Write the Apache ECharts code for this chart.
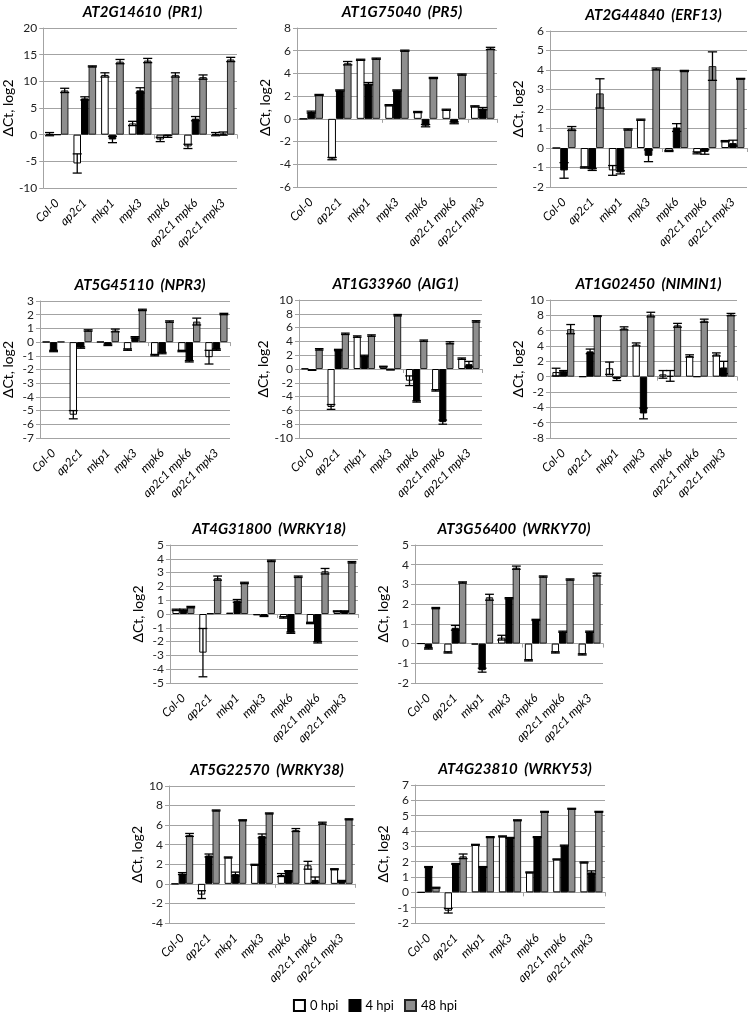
<!DOCTYPE html>
<html><head><meta charset="utf-8">
<script src="https://cdn.jsdelivr.net/npm/echarts@6/dist/echarts.min.js"></script>
<style>html,body{margin:0;padding:0;background:#fff}#c{width:750px;height:1019px}</style>
</head><body><div id="c"></div>
<script>
const categories = ['Col-0','ap2c1','mkp1','mpk3','mpk6','ap2c1 mpk6','ap2c1 mpk3'];
const hpiNames = ['0 hpi','4 hpi','48 hpi'];

// AT2G14610 (PR1)
const PR1_values = [[0.1,-5.4,11.2,2.1,-0.9,-2.2,0.1],[0.0,6.8,-0.9,8.3,-0.3,3.0,0.2],[8.3,12.8,13.7,13.9,11.2,10.8,14.1]];
const PR1_errors = [[0.3,1.8,0.4,0.4,0.4,0.4,0.3],[0,0.3,0.6,0.5,0.2,0.4,0.3],[0.4,0.1,0.4,0.4,0.4,0.4,0.4]];
// AT1G75040 (PR5)
const PR5_values = [[0.0,-3.5,5.2,1.2,0.6,0.8,1.1],[0.6,2.5,3.1,2.5,-0.6,-0.35,0.9],[2.1,4.9,5.3,6.0,3.6,3.9,6.2]];
const PR5_errors = [[0,0.1,0.05,0.05,0.05,0.05,0.05],[0.08,0.05,0.1,0.05,0.1,0.08,0.1],[0.05,0.15,0.05,0.05,0.05,0.05,0.1]];
// AT2G44840 (ERF13)
const ERF13_values = [[0,-1.0,-1.15,1.45,-0.15,-0.25,0.35],[-1.15,-1.1,-1.25,-0.4,1.05,-0.2,0.25],[1.0,2.8,0.95,4.05,3.95,4.2,3.55]];
const ERF13_errors = [[0,0.03,0.25,0.03,0.03,0.05,0.03],[0.4,0.05,0.08,0.3,0.2,0.12,0.15],[0.1,0.75,0.03,0.05,0.03,0.73,0.02]];
// AT5G45110 (NPR3)
const NPR3_values = [[0.02,-5.3,0.02,-0.55,-0.95,-0.65,-1.1],[-0.65,-0.4,-0.2,0.35,-0.8,-1.4,-0.55],[0.03,0.85,0.85,2.35,1.5,1.5,2.05]];
const NPR3_errors = [[0,0.3,0,0.05,0.05,0.05,0.5],[0.05,0.05,0.05,0.05,0.05,0.05,0.05],[0,0.05,0.1,0.05,0.05,0.25,0.05]];
// AT1G33960 (AIG1)
const AIG1_values = [[0.05,-5.5,4.7,0.35,-1.7,-3.1,1.5],[-0.15,2.75,1.9,-0.1,-4.7,-7.7,0.7],[2.85,5.1,4.85,7.8,4.1,3.8,6.9]];
const AIG1_errors = [[0,0.35,0.1,0.05,0.7,0.1,0.1],[0.05,0.1,0.1,0.05,0.1,0.3,0.4],[0.1,0.1,0.1,0.1,0.1,0.15,0.1]];
// AT1G02450 (NIMIN1)
const NIMIN1_values = [[0.6,0,1.1,4.2,0.3,2.7,2.9],[0.7,3.3,-0.3,-4.8,0.1,0,1.2],[6.2,7.9,6.3,8.1,6.7,7.3,8.1]];
const NIMIN1_errors = [[0.5,0,0.8,0.2,0.5,0.15,0.2],[0.1,0.3,0.2,0.7,0.7,0,0.8],[0.6,0.05,0.2,0.3,0.25,0.2,0.15]];
// AT4G31800 (WRKY18)
const WRKY18_values = [[0.3,-2.8,0.1,-0.1,-0.25,-0.65,0.2],[0.3,0.05,0.95,-0.15,-1.35,-2.05,0.2],[0.5,2.6,2.25,3.85,2.7,3.1,3.75]];
const WRKY18_errors = [[0.05,1.75,0,0,0.05,0.05,0.03],[0.05,0,0.1,0.03,0.05,0.05,0.03],[0.05,0.15,0.05,0.05,0.05,0.2,0.05]];
// AT3G56400 (WRKY70)
const WRKY70_values = [[0,-0.45,-0.05,0.3,-0.85,-0.45,-0.55],[-0.25,0.8,-1.35,2.3,1.2,0.6,0.6],[1.8,3.1,2.35,3.85,3.4,3.25,3.5]];
const WRKY70_errors = [[0,0.03,0,0.12,0.03,0.03,0.03],[0.03,0.12,0.1,0.03,0.03,0.03,0.03],[0.03,0.03,0.15,0.08,0.03,0.03,0.07]];
// AT5G22570 (WRKY38)
const WRKY38_values = [[0,-1.1,2.7,1.95,0.9,1.9,1.5],[1.05,2.9,1.0,4.9,1.3,0.4,0.3],[5.0,7.5,6.5,7.2,5.5,6.2,6.6]];
const WRKY38_errors = [[0,0.4,0.05,0.05,0.15,0.4,0.05],[0.1,0.15,0.2,0.2,0.05,0.3,0.05],[0.15,0.05,0.05,0.05,0.15,0.1,0.05]];
// AT4G23810 (WRKY53)
const WRKY53_values = [[0,-1.2,3.1,3.65,1.3,2.15,1.95],[1.65,1.85,1.65,3.55,3.6,3.05,1.3],[0.3,2.35,3.6,4.7,5.25,5.45,5.25]];
const WRKY53_errors = [[0,0.15,0.03,0.03,0.03,0.03,0.03],[0.03,0.03,0.03,0.03,0.03,0.03,0.1],[0.03,0.15,0.03,0.03,0.03,0.03,0.03]];

const panels = [
  {title:'AT2G14610  (PR1)', v:PR1_values, e:PR1_errors, g:[38,28,199,160], y:[-10,20,5]},
  {title:'AT1G75040  (PR5)', v:PR5_values, e:PR5_errors, g:[297,28,200,159], y:[-6,8,2]},
  {title:'AT2G44840  (ERF13)', v:ERF13_values, e:ERF13_errors, g:[550,31,197,156], y:[-2,6,1]},
  {title:'AT5G45110  (NPR3)', v:NPR3_values, e:NPR3_errors, g:[40,301,190,137], y:[-7,3,1]},
  {title:'AT1G33960  (AIG1)', v:AIG1_values, e:AIG1_errors, g:[299,300,183,138], y:[-10,10,2]},
  {title:'AT1G02450  (NIMIN1)', v:NIMIN1_values, e:NIMIN1_errors, g:[550,300,187,138], y:[-8,10,2]},
  {title:'AT4G31800  (WRKY18)', v:WRKY18_values, e:WRKY18_errors, g:[170,545,188,138], y:[-5,5,1]},
  {title:'AT3G56400  (WRKY70)', v:WRKY70_values, e:WRKY70_errors, g:[415,545,188,138], y:[-2,5,1]},
  {title:'AT5G22570  (WRKY38)', v:WRKY38_values, e:WRKY38_errors, g:[169,786,186,137], y:[-4,10,2]},
  {title:'AT4G23810  (WRKY53)', v:WRKY53_values, e:WRKY53_errors, g:[415,785,190,138], y:[-2,7,1]}
];

const FONT = 'Lato, "Open Sans", sans-serif';
const GAP = 0.18;
const GRID_COLOR = '#a3a3a3';
const barStyles = [
  {color:'#ffffff', borderColor:'#000000', borderWidth:1},
  {color:'#000000', borderColor:'#000000', borderWidth:1},
  {color:'#8e8e8e', borderColor:'#222222', borderWidth:1}
];

function errRenderer(k){
  return function(params, api){
    const cat = api.value(0), val = api.value(1), err = api.value(2);
    if (!err) return null;
    const band = api.size([1,0])[0];
    const bw = band*(1-GAP)/3;
    const c = api.coord([cat,val]);
    const x = c[0] + (k-1)*bw;
    const yT = api.coord([cat,val+err])[1];
    const yB = api.coord([cat,val-err])[1];
    const h = bw*0.6;
    const st = {stroke:'#000', lineWidth:1.3};
    return {type:'group', children:[
      {type:'line', shape:{x1:x,y1:yT,x2:x,y2:yB}, style:st},
      {type:'line', shape:{x1:x-h,y1:yT,x2:x+h,y2:yT}, style:st},
      {type:'line', shape:{x1:x-h,y1:yB,x2:x+h,y2:yB}, style:st}
    ]};
  };
}

const option = {animation:false, backgroundColor:'#fff', title:[], grid:[], xAxis:[], yAxis:[], series:[],
  legend:{data:hpiNames, bottom:2, left:'center', icon:'rect', itemWidth:11, itemHeight:11, itemGap:10,
    textStyle:{fontFamily:FONT, fontSize:13, color:'#000'}}};

panels.forEach((p,i)=>{
  const [l,t,w,h] = p.g;
  option.title.push({text:p.title, left:l+w/2, top:t-28, textAlign:'center',
    textStyle:{fontFamily:FONT, fontSize:15, fontWeight:'bold', fontStyle:'italic', color:'#000'}});
  option.grid.push({left:l, top:t, width:w, height:h, containLabel:false});
  option.xAxis.push({type:'category', data:categories, gridIndex:i, position:'bottom',
    axisLine:{show:false, onZero:false}, axisTick:{show:false},
    axisLabel:{rotate:45, interval:0, margin:13, fontFamily:FONT, fontSize:12, fontStyle:'italic', color:'#000'}});
  option.xAxis.push({type:'category', data:categories, gridIndex:i, position:'top',
    axisLine:{show:true, onZero:true, lineStyle:{color:GRID_COLOR, width:1}},
    axisTick:{show:true, inside:true, length:4, lineStyle:{color:GRID_COLOR}},
    axisLabel:{show:false}, splitLine:{show:false}});
  option.yAxis.push({type:'value', gridIndex:i, min:p.y[0], max:p.y[1], interval:p.y[2],
    name:'ΔCt, log2', nameLocation:'middle', nameGap:25, nameRotate:90,
    nameTextStyle:{fontFamily:FONT, fontSize:14, color:'#000'},
    axisLine:{show:true, lineStyle:{color:GRID_COLOR}},
    axisTick:{show:true, length:4, lineStyle:{color:GRID_COLOR}},
    splitLine:{show:true, lineStyle:{color:GRID_COLOR, width:1}},
    axisLabel:{fontFamily:FONT, fontSize:12, color:'#222', margin:6}});
  for (let k=0;k<3;k++){
    option.series.push({type:'bar', name:hpiNames[k], xAxisIndex:2*i, yAxisIndex:i,
      data:p.v[k], barGap:'0%', barCategoryGap:(GAP*100)+'%', itemStyle:barStyles[k], z:2});
  }
  for (let k=0;k<3;k++){
    option.series.push({type:'custom', name:'err'+i+'_'+k, xAxisIndex:2*i, yAxisIndex:i, z:5,
      renderItem:errRenderer(k), encode:{x:0,y:1},
      data:p.v[k].map((v,j)=>[j, v, p.e[k][j]])});
  }
});

const chart = echarts.init(document.getElementById('c'), null, {renderer:'canvas'});
chart.setOption(option);
</script></body></html>
